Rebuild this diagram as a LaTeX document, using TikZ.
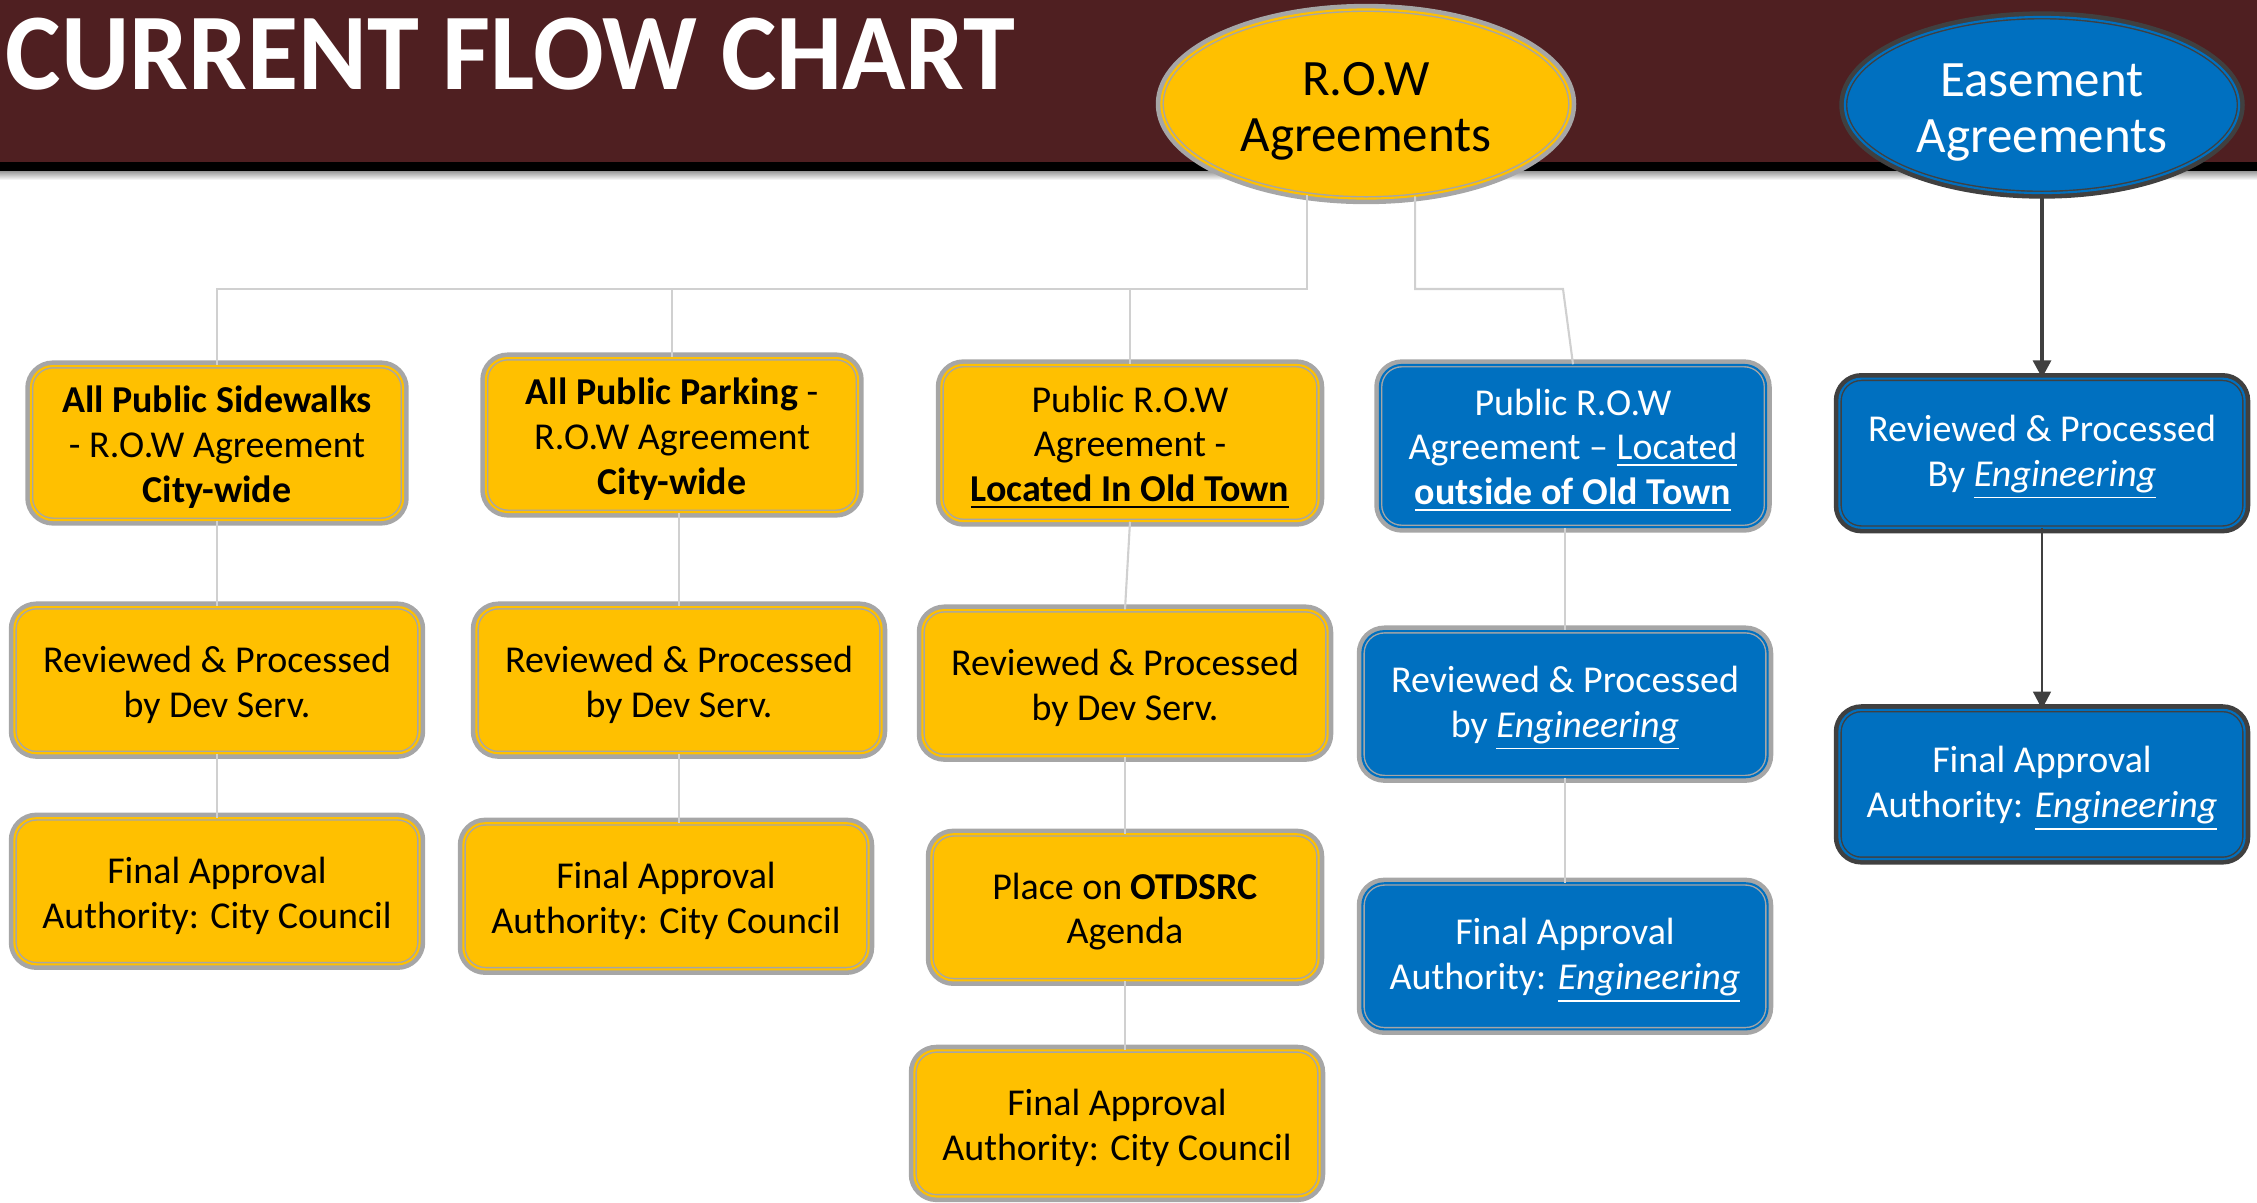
\documentclass[tikz,border=0pt]{standalone}
\usepackage{fontspec}
\setmainfont{Carlito}
\usepackage{tikz}
\usetikzlibrary{shapes,arrows,positioning,calc,arrows.meta}

\definecolor{banner}{HTML}{4F1F21}
\definecolor{rowyellow}{HTML}{FFC000}
\definecolor{easeblue}{HTML}{0070C0}
\definecolor{rimgray}{HTML}{A6A6A6}
\definecolor{rimdark}{HTML}{404040}
\definecolor{treegray}{HTML}{D0D0D0}

% extra room above the first line of a box
\newcommand{\boxlift}{\rule{0pt}{10pt}}
\newcommand{\ovallift}{\rule{0pt}{13.5pt}}

\tikzset{
  rimmed/.style 2 args={draw=#1, line width=0.4pt, double=#2, double distance=0.6pt,
    fill=#2, preaction={draw=#1, line width=3.2pt}},
  boxbase/.style={rectangle, rounded corners=0.22cm, align=center,
    minimum width=4.05cm, minimum height=1.46cm, font=\fontsize{10.8}{12.7}\selectfont},
  rowbox/.style={boxbase, rimmed={rimgray}{rowyellow}, text=black},
  engbox/.style={boxbase, rimmed={rimgray}{easeblue}, text=white},
  easebox/.style={boxbase, rimmed={rimdark}{easeblue}, text=white},
  agreement/.style={ellipse, align=center, inner sep=0pt, font=\fontsize{14.5}{15.9}\selectfont},
  tree/.style={draw=treegray, line width=0.6pt},
  flow/.style={draw=rimdark, -{Triangle[length=5pt,width=5pt]}}
}

\begin{document}
\begin{tikzpicture}[x=0.01cm, y=-0.01cm]
  \useasboundingbox (0,0) rectangle (2257,1202);

  % header band
  \fill[banner] (0,0) rectangle (2257,162);
  \fill[black] (0,162) rectangle (2257,171);
  \shade[top color=black!40, bottom color=white] (0,171) rectangle (2257,180);
  \node[anchor=base west, inner sep=0pt, text=white, font=\fontsize{31}{31}\selectfont\bfseries] (title) at (5,89)
    {\scalebox{0.96}[1]{CURRENT FLOW CHART}};

  % the two kinds of agreement
  \node[agreement, rimmed={rimgray}{rowyellow}, minimum width=4.09cm, minimum height=1.89cm] (row) at (1366,104) {\ovallift R.O.W\\Agreements};
  \node[agreement, rimmed={rimdark}{easeblue}, text=white, minimum width=3.94cm, minimum height=1.76cm] (ease) at (2042,105) {\ovallift Easement\\Agreements};

  % R.O.W columns
  \node[rowbox, minimum width=3.72cm] (b1) at (217,443) {\boxlift\textbf{All Public Sidewalks}\\- R.O.W Agreement\\\textbf{City-wide}};
  \node[rowbox, minimum width=3.72cm] (b2) at (672,435) {\boxlift\textbf{All Public Parking} -\\R.O.W Agreement\\\textbf{City-wide}};
  \node[rowbox, minimum width=3.77cm, minimum height=1.56cm] (b3) at (1130,443) {\boxlift Public R.O.W\\Agreement -\\\underline{\textbf{Located In Old Town}}};
  \node[engbox, minimum width=3.86cm, minimum height=1.62cm] (b4) at (1573,446) {\boxlift Public R.O.W\\Agreement -- \underline{Located}\\\underline{\textbf{outside of Old Town}}};

  \node[rowbox, below of=b1, node distance=2.37cm] (r1) {\boxlift Reviewed \& Processed\\by Dev Serv.};
  \node[rowbox, below of=r1, node distance=2.11cm] (f1) {\boxlift Final Approval\\Authority: City Council};

  \node[rowbox, below of=b2, node distance=2.45cm, xshift=0.07cm] (r2) {\boxlift Reviewed \& Processed\\by Dev Serv.};
  \node[rowbox, below of=r2, node distance=2.16cm, xshift=-0.13cm] (f2) {\boxlift Final Approval\\Authority: City Council};

  \node[rowbox, below of=b3, node distance=2.40cm, xshift=-0.05cm] (r3) {\boxlift Reviewed \& Processed\\by Dev Serv.};
  \node[rowbox, below of=r3, node distance=2.24cm, minimum width=3.87cm] (p3) {\boxlift Place on \textbf{OTDSRC}\\Agenda};
  \node[rowbox, below of=p3, node distance=2.16cm, xshift=-0.08cm] (f3) {\boxlift Final Approval\\Authority: City Council};

  \node[engbox, below of=b4, node distance=2.58cm, xshift=-0.08cm] (r4) {\boxlift Reviewed \& Processed\\by \underline{\textit{Engineering}}};
  \node[engbox, below of=r4, node distance=2.52cm] (f4) {\boxlift Final Approval\\Authority: \underline{\textit{Engineering}}};

  % easement column
  \node[easebox, below of=ease, node distance=3.48cm, minimum height=1.49cm] (e1) {\boxlift Reviewed \& Processed\\By \underline{\textit{Engineering}}};
  \node[easebox, below of=e1, node distance=3.31cm, minimum height=1.49cm] (e2) {\boxlift Final Approval\\Authority: \underline{\textit{Engineering}}};

  % tree lines
  \coordinate (jl) at (row.237 |- 0,289);
  \coordinate (jr) at (row.-62 |- 0,289);
  \coordinate (kink) at (1563,289);
  \draw[tree] (row.237) -- (jl) -- (jl -| b1.north) -- (b1.north);
  \draw[tree] (jl -| b2.north) -- (b2.north);
  \draw[tree] (jl -| b3.north) -- (b3.north);
  \draw[tree] (row.-62) -- (jr) -- (kink) -- (b4.north);

  \draw[tree] (b1.south) -- (r1.north);
  \draw[tree] (r1.south) -- (f1.north);
  \draw[tree] (b2.south -| r2.north) -- (r2.north);
  \draw[tree] (r2.south) -- (f2.north -| r2.south);
  \draw[tree] (b3.south) -- (r3.north);
  \draw[tree] (r3.south) -- (p3.north);
  \draw[tree] (p3.south) -- (f3.north -| p3.south);
  \draw[tree] (b4.south -| r4.north) -- (r4.north);
  \draw[tree] (r4.south) -- (f4.north);

  % easement arrows
  \draw[flow, line width=1.2pt] (ease.south) -- (e1.north);
  \draw[flow, line width=0.8pt] (e1.south) -- (e2.north);
\end{tikzpicture}
\end{document}
